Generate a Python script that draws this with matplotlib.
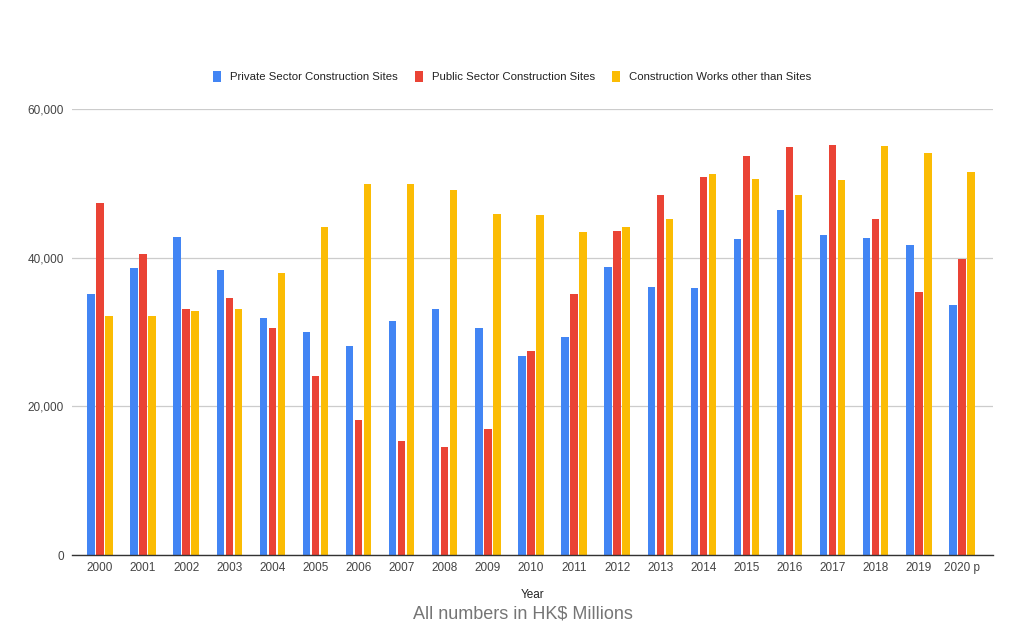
import matplotlib
matplotlib.use("Agg")
import matplotlib.pyplot as plt
import numpy as np
from matplotlib.ticker import FuncFormatter

plt.rcParams['font.family'] = ['Liberation Sans', 'DejaVu Sans']

years = ["2000", "2001", "2002", "2003", "2004", "2005", "2006", "2007", "2008", "2009",
         "2010", "2011", "2012", "2013", "2014", "2015", "2016", "2017", "2018", "2019", "2020 p"]
private = [35050, 38590, 42810, 38370, 31860, 30020, 28090, 31500, 33160, 30600,
           26790, 29350, 38730, 36080, 35900, 42500, 46440, 42990, 42630, 41640, 33660]
public = [47340, 40520, 33030, 34550, 30510, 24050, 18220, 15300, 14540, 16920,
          27460, 35180, 43530, 48370, 50890, 53620, 54840, 55190, 45190, 35320, 39850]
other = [32130, 32130, 32800, 33160, 37960, 44070, 49850, 49850, 49140, 45810,
         45770, 43480, 44070, 45190, 51250, 50620, 48460, 50480, 55060, 54070, 51510]
series_names = ["Private Sector Construction Sites", "Public Sector Construction Sites",
                "Construction Works other than Sites"]
colors = ["#4285F4", "#EA4335", "#FBBC04"]

fig = plt.figure(figsize=(10.24, 6.32), dpi=100)
ax = fig.add_axes([0.0703, 0.1218, 0.8994, 0.7057])

x = np.arange(len(years))
step = 0.209
width = 0.172
for i, (vals, name, c) in enumerate(zip([private, public, other], series_names, colors)):
    ax.bar(x + (i - 1) * step, vals, width, color=c, label=name, zorder=3)

ax.set_ylim(0, 60000)
ax.set_xlim(-0.65, 20.72)
ax.set_yticks([0, 20000, 40000, 60000])
ax.yaxis.set_major_formatter(FuncFormatter(lambda v, p: f"{int(v):,}"))
ax.set_xticks(x)
ax.set_xticklabels(years)
ax.grid(axis='y', color='#cccccc', linewidth=0.9, zorder=0)
for s in ['top', 'right', 'left']:
    ax.spines[s].set_visible(False)
ax.spines['bottom'].set_color('#333333')
ax.spines['bottom'].set_linewidth(1.0)
ax.spines['bottom'].set_zorder(4)
ax.tick_params(axis='both', length=0, labelsize=8.5, labelcolor='#444444')
ax.tick_params(axis='y', pad=6)
ax.tick_params(axis='x', pad=5)

ax.set_xlabel("Year", fontsize=8.5, color='#222222', labelpad=11)

leg = fig.legend(loc='center', bbox_to_anchor=(0.5, 0.879), ncol=3, frameon=False,
                 fontsize=8.2, handlelength=0.75, handleheight=1.2, columnspacing=1.5,
                 handletextpad=0.75)
for t in leg.get_texts():
    t.set_color('#222222')

fig.text(0.511, 0.029, "All numbers in HK$ Millions", ha='center', va='center',
         fontsize=13, color='#757575')

fig.savefig("out.png", dpi=100, facecolor='white')
